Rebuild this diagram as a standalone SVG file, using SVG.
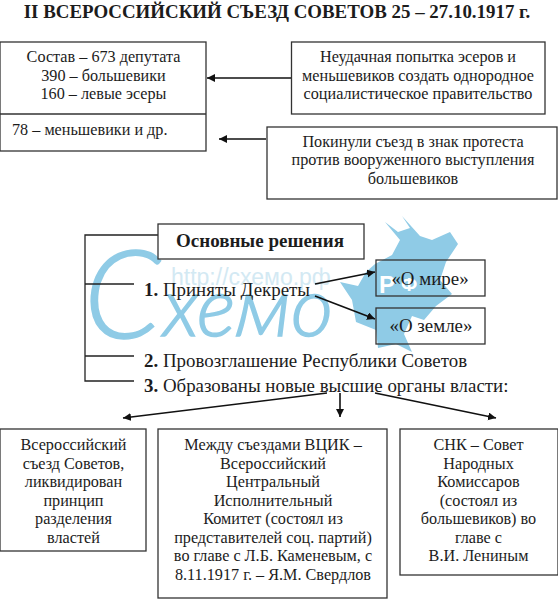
<svg xmlns="http://www.w3.org/2000/svg" width="558" height="600" viewBox="0 0 558 600">
<style>
text{font-family:"Liberation Serif","Times New Roman",serif;fill:#1c1c1c;font-size:16.2px}
.c{text-anchor:middle}
.t{font-size:18.9px}
.b{font-weight:bold}
.box{fill:none;stroke:#333;stroke-width:1.3}
.ln{fill:none;stroke:#222;stroke-width:1.3}
.ar{fill:none;stroke:#111;stroke-width:1.6;marker-end:url(#a)}
.wm{font-family:"Lato","Liberation Sans",sans-serif;font-style:italic;fill:#8fcbe6;stroke:#8fcbe6;stroke-width:1.500}
</style>
<defs>
<marker id="a" markerUnits="userSpaceOnUse" markerWidth="9" markerHeight="9" refX="8" refY="4" orient="auto"><path d="M0 0L8 4L0 8Z" fill="#111"/></marker>
</defs>
<rect width="558" height="600" fill="#fff"/>
<g id="watermark">
<path d="M375 264L392 255L400 240L385 222L398 232L410 228L402 216L420 236L432 240L450 232L458 244L446 262L440 280L452 294L436 306L424 320L412 316L404 334L412 352L396 344L378 348L376 330L356 322L352 300L340 282L358 286L366 272Z" fill="#8fcbe6"/>
<text x="379" y="293" style="font-family:'Liberation Sans',sans-serif;font-size:24px;font-weight:bold;fill:#fff">Р</text>
<text x="401" y="291" style="font-family:'Liberation Sans',sans-serif;font-size:19px;font-weight:bold;fill:#fff">Ф</text>
<text x="171" y="285" style="font-family:'Liberation Sans',sans-serif;font-size:23px;fill:#d3e9f3">http://схемо.рф</text>
<text class="wm" x="84" y="338" style="font-size:122px;font-weight:300">С</text>
<text class="wm" x="163" y="336" style="font-size:82px;font-weight:300">хемо</text>
</g>
<g id="title"><text class="c b" x="277" y="18" style="font-size:18.9px">II ВСЕРОССИЙСКИЙ СЪЕЗД СОВЕТОВ 25 – 27.10.1917 г.</text></g>
<g id="connectors">
<path class="ar" d="M291 78H207"/>
<path class="ar" d="M266 139H219"/>
<path class="ln" d="M158 235H85V381H134M85 284H134M85 356H134"/>
<path class="ar" d="M315 284L375 272"/>
<path class="ar" d="M315 296L375 319"/>
<path class="ar" d="M327 393L123 418"/>
<path class="ar" d="M340 393V417"/>
<path class="ar" d="M375 393L496 418"/>
</g>
<g id="composition">
<rect class="box" x="0" y="42" width="206" height="109"/>
<path class="box" d="M0 114H206"/>
<text class="c" x="103.500" y="62">Состав – 673 депутата</text>
<text class="c" x="103.500" y="81">390 – большевики</text>
<text class="c" x="103.500" y="99">160 – левые эсеры</text>
<text x="12" y="135">78 – меньшевики и др.</text>
</g>
<g id="attempt">
<rect class="box" x="291.500" y="42" width="253.500" height="72"/>
<text class="c" x="418" y="62">Неудачная попытка эсеров и</text>
<text class="c" x="418" y="81">меньшевиков создать однородное</text>
<text class="c" x="418" y="99">социалистическое правительство</text>
</g>
<g id="left-congress">
<rect class="box" x="267" y="127" width="290" height="72"/>
<text class="c" x="413" y="147">Покинули съезд в знак протеста</text>
<text class="c" x="413" y="165">против вооруженного выступления</text>
<text class="c" x="413" y="184">большевиков</text>
</g>
<g id="main">
<rect class="box" x="158" y="224" width="206" height="35" style="fill:#fff"/>
<text class="c b" x="260" y="247" style="font-size:19px">Основные решения</text>
</g>
<g id="items">
<text class="t" x="144" y="296"><tspan class="b">1.</tspan> Приняты Декреты</text>
<text class="t" x="144" y="367"><tspan class="b">2.</tspan> Провозглашение Республики Советов</text>
<text class="t" x="144" y="392"><tspan class="b">3.</tspan> Образованы новые высшие органы власти:</text>
</g>
<g id="peace">
<rect class="box" x="376" y="260" width="109" height="36"/>
<text class="c t" x="430" y="285">«О мире»</text>
</g>
<g id="land">
<rect class="box" x="376" y="308" width="109" height="36"/>
<text class="c t" x="431" y="332">«О земле»</text>
</g>
<g id="congress">
<rect class="box" x="0" y="429" width="146" height="122"/>
<text class="c" x="73.500" y="450">Всероссийский</text>
<text class="c" x="73.500" y="469">съезд Советов,</text>
<text class="c" x="73.500" y="487">ликвидирован</text>
<text class="c" x="73.500" y="506">принцип</text>
<text class="c" x="73.500" y="524">разделения</text>
<text class="c" x="73.500" y="543">властей</text>
</g>
<g id="vcik">
<rect class="box" x="158" y="429" width="229" height="169"/>
<text class="c" x="273" y="450">Между съездами ВЦИК –</text>
<text class="c" x="273" y="469">Всероссийский</text>
<text class="c" x="273" y="487">Центральный</text>
<text class="c" x="273" y="506">Исполнительный</text>
<text class="c" x="273" y="524">Комитет (состоял из</text>
<text class="c" x="273" y="543">представителей  соц. партий)</text>
<text class="c" x="273" y="561">во главе с Л.Б. Каменевым, с</text>
<text class="c" x="273" y="580">8.11.1917 г. – Я.М. Свердлов</text>
</g>
<g id="snk">
<rect class="box" x="400" y="429" width="158" height="146"/>
<text class="c" x="478.500" y="450">СНК – Совет</text>
<text class="c" x="478.500" y="469">Народных</text>
<text class="c" x="478.500" y="487">Комиссаров</text>
<text class="c" x="478.500" y="506">(состоял из</text>
<text class="c" x="478.500" y="524">большевиков) во</text>
<text class="c" x="478.500" y="543">главе с</text>
<text class="c" x="478.500" y="561">В.И. Лениным</text>
</g>
</svg>
